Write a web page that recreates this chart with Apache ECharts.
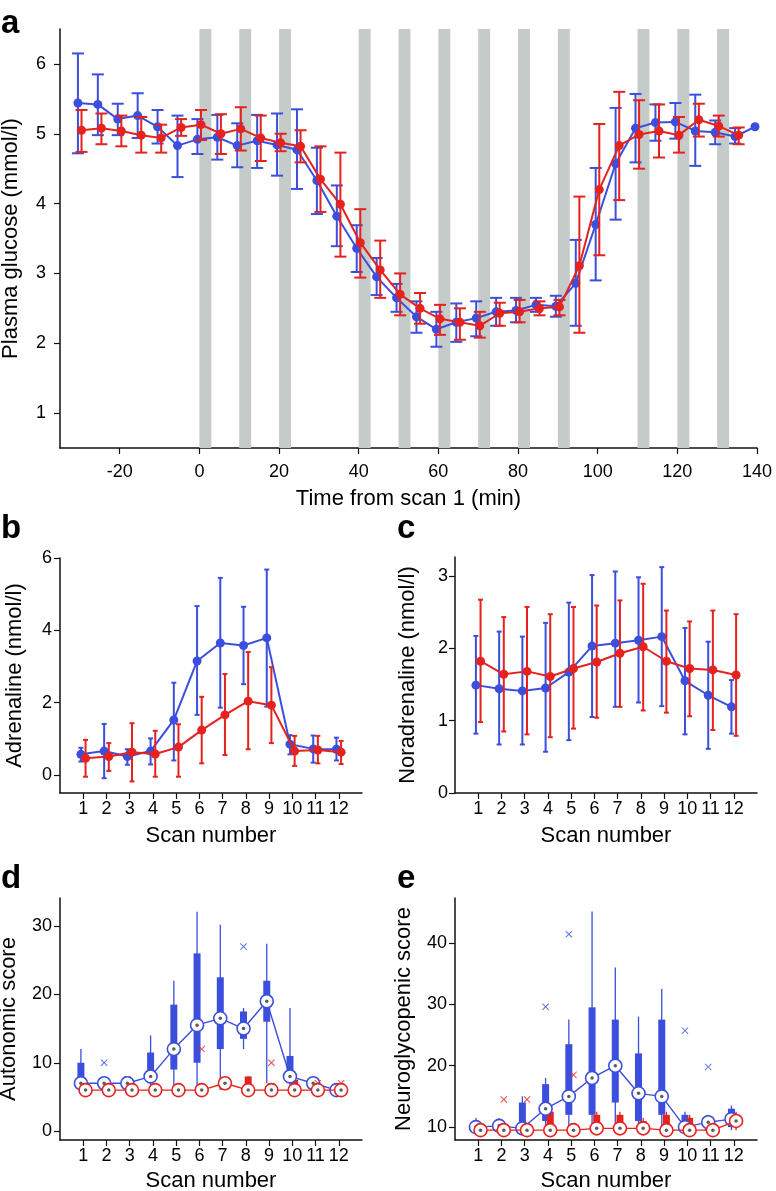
<!DOCTYPE html>
<html><head><meta charset="utf-8">
<script src="https://cdn.jsdelivr.net/npm/echarts@6/dist/echarts.min.js"></script>
<style>html,body{margin:0;padding:0;background:#fff}#c{width:776px;height:1191px}</style>
</head><body><div id="c"></div>
<script>
// ---------- Panel a: plasma glucose ----------
const aBlueTimes = [-30,-25,-20,-15,-10,-5,0,5,10,15,20,25,30,35,40,45,50,55,60,65,70,75,80,85,90,95,100,105,110,115,120,125,130,135,140];
const aBlue    = [5.44,5.42,5.21,5.26,5.10,4.83,4.92,4.95,4.83,4.90,4.84,4.77,4.33,3.82,3.36,2.95,2.65,2.38,2.20,2.30,2.36,2.45,2.47,2.55,2.53,2.86,3.70,4.57,5.08,5.16,5.17,5.04,5.02,4.96,5.10];
const aBlueLo  = [4.72,4.98,4.98,4.94,4.86,4.38,4.71,4.63,4.52,4.51,4.40,4.21,3.85,3.39,3.02,2.69,2.45,2.15,1.95,2.02,2.10,2.25,2.30,2.45,2.38,2.25,2.90,3.77,4.59,4.90,4.93,4.54,4.85,4.86,null];
const aBlueHi  = [6.15,5.85,5.43,5.58,5.34,5.26,5.21,5.27,5.15,5.27,5.29,5.35,4.80,4.26,3.69,3.22,2.85,2.60,2.45,2.57,2.60,2.65,2.65,2.65,2.68,3.48,4.51,5.37,5.57,5.42,5.44,5.56,5.19,5.08,null];
const aRedTimes = [-30,-25,-20,-15,-10,-5,0,5,10,15,20,25,30,35,40,45,50,55,60,65,70,75,80,85,90,95,100,105,110,115,120,125,130,135];
const aRed     = [5.05,5.08,5.04,4.98,4.94,5.09,5.13,5.00,5.07,4.94,4.87,4.82,4.35,3.99,3.44,3.05,2.70,2.50,2.35,2.30,2.25,2.43,2.45,2.50,2.52,3.11,4.20,4.83,4.99,5.04,4.98,5.20,5.11,4.98];
const aRedLo   = [4.74,4.85,4.82,4.73,4.73,4.97,4.91,4.71,4.76,4.61,4.75,4.59,3.88,3.24,2.94,2.65,2.40,2.28,2.12,2.05,2.08,2.25,2.30,2.40,2.40,2.15,3.26,4.05,4.50,4.66,4.73,4.96,4.96,4.85];
const aRedHi   = [5.34,5.29,5.26,5.24,5.13,5.21,5.34,5.28,5.38,5.26,5.00,5.05,4.82,4.73,3.92,3.47,3.00,2.72,2.55,2.50,2.45,2.58,2.62,2.60,2.62,4.10,5.14,5.60,5.48,5.42,5.24,5.43,5.26,5.09];
const scanStarts = [0,10,20,40,50,60,70,80,90,110,120,130];
const scanLength = 3;
const aXTicks = [-20,0,20,40,60,80,100,120,140];
const aYTicks = [1,2,3,4,5,6];

// ---------- Panels b-e: per scan ----------
const scans = [1,2,3,4,5,6,7,8,9,10,11,12];
const bBlue   = [0.57,0.66,0.51,0.66,1.52,3.15,3.65,3.58,3.79,0.85,0.72,0.71];
const bBlueLo = [0.37,-0.09,0.28,0.29,0.40,1.66,1.86,2.51,1.89,0.57,0.34,0.40];
const bBlueHi = [0.75,1.41,0.71,1.01,2.55,4.67,5.45,4.65,5.68,1.10,1.09,1.03];
const bRed    = [0.46,0.51,0.63,0.58,0.77,1.24,1.66,2.04,1.93,0.66,0.69,0.63];
const bRedLo  = [-0.05,0.11,-0.18,-0.05,-0.05,0.32,0.55,0.71,0.88,0.25,0.32,0.30];
const bRedHi  = [0.97,0.88,1.43,1.22,1.40,2.16,2.79,3.40,2.98,1.08,1.08,0.94];
const bYTicks = [0,2,4,6];

const cBlue   = [1.49,1.44,1.41,1.45,1.67,2.03,2.07,2.11,2.16,1.55,1.35,1.19];
const cBlueLo = [0.82,0.67,0.67,0.57,0.73,1.05,1.19,1.25,1.20,0.81,0.61,0.82];
const cBlueHi = [2.17,2.23,2.16,2.35,2.63,3.01,3.06,2.98,3.12,2.28,2.09,1.56];
const cRed    = [1.82,1.64,1.68,1.61,1.72,1.81,1.93,2.02,1.82,1.72,1.70,1.63];
const cRedLo  = [0.98,0.85,0.81,0.77,0.89,1.04,1.19,1.14,1.11,1.06,0.87,0.79];
const cRedHi  = [2.67,2.43,2.57,2.47,2.57,2.59,2.66,2.89,2.52,2.37,2.52,2.47];
const cYTicks = [0,1,2,3];

// box stats: [low whisker, q1, median, q3, high whisker]
const dBlueBox = [[6,6.5,7,10,12],[6,6.5,7,7.5,8],[6,6.5,7,8,8],[6,7,8,11.5,14],[6,9,12,18.5,22],[6,10,15.5,26,32.1],[6,12,16.5,22.5,30.2],[12,13.5,15,17.5,18],[7,16,19,22,27.4],[6,7,8,11,18],[6,6,7,7.5,8],[6,6,6,6.5,7]];
const dRedBox  = [[6,6,6,6,6],[6,6,6,6,6],[6,6,6,6,6],[6,6,6,6,6],[6,6,6,6,6],[6,6,6,6,6],[6,6,7,7.5,8],[6,6,6,8,8],[6,6,6,7,7],[6,6,6,7.5,8],[6,6,6,6,6],[6,6,6,6,6]];
const dBlueOut = [[2,10],[8,27]];
const dRedOut  = [[6,12],[9,10],[11,7],[12,7]];
const dYTicks = [0,10,20,30];

const eBlueBox = [[9.5,10,10,11,11.5],[9.5,10,10.2,11,11.5],[9.5,9.5,9.8,14,15],[9.5,11,13,17,18],[9.5,12,15,23.5,27.5],[9.5,12,18,29.5,45.1],[9.5,14,20,27.5,36],[9.5,11,15.5,22,28],[9.5,12,15,27.5,32.5],[9.5,9.5,10,12,12.5],[9.5,9.5,10.8,11,12],[9.5,10,11.3,13,13.5]];
const eRedBox  = [[9.5,9.5,9.5,10,10.5],[9.5,9.5,9.5,10,10.5],[9.5,9.5,9.5,10,10.5],[9.5,9.5,9.5,12.5,13],[9.5,9.5,9.5,10,10.5],[9.5,9.5,9.8,12,12.5],[9.5,9.5,9.8,12,12.5],[9.5,9.5,9.8,11,11.5],[9.5,9.5,9.5,12,12.5],[9.5,9.5,9.5,11.5,12],[9.5,9.5,9.5,10,10.5],[9.5,10,11,12,12.5]];
const eBlueOut = [[4,29.6],[5,41.4],[10,25.7],[11,19.8]];
const eRedOut  = [[2,14.5],[3,14.5],[5,18.5]];
const eYTicks = [10,20,30,40];

// ---------- styling ----------
const BLUE = '#3b4fdc', RED = '#e5221e', GREY = '#c5cbc8';
const FONT = "'Liberation Sans', Arial, Helvetica, sans-serif";
const TICK_FS = 18, NAME_FS = 22;

function xAxis(gi, min, max, ticks, name, gap, margin) {
  return {type:'value', gridIndex:gi, min, max, name, nameLocation:'middle', nameGap:gap,
    nameTextStyle:{fontSize:NAME_FS, color:'#000', fontFamily:FONT},
    axisLine:{show:true, onZero:false, lineStyle:{color:'#111', width:1.5}},
    axisTick:{show:true, inside:false, length:6, customValues:ticks, lineStyle:{color:'#111', width:1.2}},
    axisLabel:{customValues:ticks, fontSize:TICK_FS, color:'#000', fontFamily:FONT, margin},
    splitLine:{show:false}};
}
function yAxis(gi, min, max, ticks, name, gap, margin) {
  return {type:'value', gridIndex:gi, min, max, name, nameLocation:'middle', nameGap:gap, nameRotate:90,
    nameTextStyle:{fontSize:NAME_FS, color:'#000', fontFamily:FONT},
    axisLine:{show:true, onZero:false, lineStyle:{color:'#111', width:1.5}},
    axisTick:{show:true, inside:false, length:6, customValues:ticks, lineStyle:{color:'#111', width:1.2}},
    axisLabel:{customValues:ticks, fontSize:TICK_FS, color:'#000', fontFamily:FONT, margin},
    splitLine:{show:false}};
}
function errBars(gi, xs, lo, hi, color, cap, lw, z) {
  const data = [];
  xs.forEach((x,i)=>{ if (lo[i]!=null && hi[i]!=null) data.push([x, lo[i], hi[i]]); });
  return {type:'custom', xAxisIndex:gi, yAxisIndex:gi, z, silent:true, data,
    renderItem(params, api){
      const x = api.value(0);
      const p1 = api.coord([x, api.value(1)]), p2 = api.coord([x, api.value(2)]);
      const st = {stroke:color, lineWidth:lw};
      return {type:'group', children:[
        {type:'line', shape:{x1:p1[0], y1:p1[1], x2:p2[0], y2:p2[1]}, style:st},
        {type:'line', shape:{x1:p1[0]-cap/2, y1:p1[1], x2:p1[0]+cap/2, y2:p1[1]}, style:st},
        {type:'line', shape:{x1:p2[0]-cap/2, y1:p2[1], x2:p2[0]+cap/2, y2:p2[1]}, style:st}
      ]};
    }};
}
function lineSeries(gi, xs, ys, color, size, lw, z) {
  return {type:'line', xAxisIndex:gi, yAxisIndex:gi, z, silent:true, animation:false,
    data: xs.map((x,i)=>[x, ys[i]]), symbol:'circle', symbolSize:size, showSymbol:true,
    itemStyle:{color}, lineStyle:{color, width:lw}};
}
function boxSeries(gi, boxes, offset, color, z) {
  return {type:'custom', xAxisIndex:gi, yAxisIndex:gi, z, silent:true,
    data: boxes.map((b,i)=>[scans[i]+offset, b[0], b[1], b[3], b[4]]),
    renderItem(params, api){
      const x = api.value(0);
      const lo = api.coord([x, api.value(1)]), q1 = api.coord([x, api.value(2)]);
      const q3 = api.coord([x, api.value(3)]), hi = api.coord([x, api.value(4)]);
      const w = 7;
      return {type:'group', children:[
        {type:'line', shape:{x1:lo[0], y1:lo[1], x2:hi[0], y2:hi[1]}, style:{stroke:color, lineWidth:1.3}},
        {type:'rect', shape:{x:q1[0]-w/2, y:q3[1], width:w, height:Math.max(q1[1]-q3[1],0)}, style:{fill:color}}
      ]};
    }};
}
function medianSeries(gi, boxes, offset, color, z) {
  const data = boxes.map((b,i)=>[scans[i]+offset, b[2]]);
  return [
    {type:'line', xAxisIndex:gi, yAxisIndex:gi, z, silent:true, data, symbol:'circle', symbolSize:13,
     itemStyle:{color:'#fff', borderColor:color, borderWidth:1.6}, lineStyle:{color, width:1.4}},
    {type:'scatter', xAxisIndex:gi, yAxisIndex:gi, z:z+1, silent:true, data, symbol:'circle', symbolSize:3.5,
     itemStyle:{color:'#333'}}
  ];
}
const XPATH = 'path://M0,1L1,0L5,4L9,0L10,1L6,5L10,9L9,10L5,6L1,10L0,9L4,5Z';
function outSeries(gi, pts, offset, color) {
  return {type:'scatter', xAxisIndex:gi, yAxisIndex:gi, z:6, silent:true,
    data: pts.map(p=>[p[0]+offset, p[1]]), symbol:XPATH, symbolSize:7, itemStyle:{color}};
}
const off = 0.1;
const aOffB = -0.5, aOffR = 0.4;

const series = [
  {type:'line', xAxisIndex:0, yAxisIndex:0, data:[], z:0, silent:true,
   markArea:{silent:true, itemStyle:{color:GREY}, data: scanStarts.map(s=>[{xAxis:s},{xAxis:s+scanLength}])}},
  errBars(0, aBlueTimes.map(t=>t+aOffB), aBlueLo, aBlueHi, BLUE, 12, 2, 2),
  lineSeries(0, aBlueTimes.map(t=>t+aOffB), aBlue, BLUE, 9, 2, 3),
  errBars(0, aRedTimes.map(t=>t+aOffR), aRedLo, aRedHi, RED, 12, 2, 4),
  lineSeries(0, aRedTimes.map(t=>t+aOffR), aRed, RED, 9, 2, 5),
  errBars(1, scans.map(s=>s-off), bBlueLo, bBlueHi, BLUE, 5, 2, 2),
  lineSeries(1, scans.map(s=>s-off), bBlue, BLUE, 9, 2, 3),
  errBars(1, scans.map(s=>s+off), bRedLo, bRedHi, RED, 5, 2, 4),
  lineSeries(1, scans.map(s=>s+off), bRed, RED, 9, 2, 5),
  errBars(2, scans.map(s=>s-off), cBlueLo, cBlueHi, BLUE, 5, 2, 2),
  lineSeries(2, scans.map(s=>s-off), cBlue, BLUE, 9, 2, 3),
  errBars(2, scans.map(s=>s+off), cRedLo, cRedHi, RED, 5, 2, 4),
  lineSeries(2, scans.map(s=>s+off), cRed, RED, 9, 2, 5),
  boxSeries(3, dBlueBox, -off, BLUE, 2),
  boxSeries(3, dRedBox, off, RED, 2),
  outSeries(3, dBlueOut, -off, BLUE),
  outSeries(3, dRedOut, off, RED),
  ...medianSeries(3, dBlueBox, -off, BLUE, 4),
  ...medianSeries(3, dRedBox, off, RED, 6),
  boxSeries(4, eBlueBox, -off, BLUE, 2),
  boxSeries(4, eRedBox, off, RED, 2),
  outSeries(4, eBlueOut, -off, BLUE),
  outSeries(4, eRedOut, off, RED),
  ...medianSeries(4, eBlueBox, -off, BLUE, 4),
  ...medianSeries(4, eRedBox, off, RED, 6)
];

const panelLabel = (t, x, y) => ({type:'text', left:x, top:y,
  style:{text:t, font:"bold 33px " + FONT, fill:'#000'}});
const g = (left, top, width, height) => ({left, top, width, height, containLabel:false, outerBoundsMode:'none'});

const option = {
  animation:false,
  backgroundColor:'#fff',
  grid:[
    g(60, 29, 697, 419),
    g(60, 558, 302, 235),
    g(455, 557, 302, 236),
    g(60, 898, 302, 242),
    g(455, 898, 302, 242)
  ],
  xAxis:[
    xAxis(0, -35, 140, aXTicks, 'Time from scan 1 (min)', 40, 15),
    xAxis(1, 0, 13, scans, 'Scan number', 32, 7),
    xAxis(2, 0, 13, scans, 'Scan number', 32, 7),
    xAxis(3, 0, 13, scans, 'Scan number', 30, 7),
    xAxis(4, 0, 13, scans, 'Scan number', 30, 7)
  ],
  yAxis:[
    yAxis(0, 0.5, 6.5, aYTicks, 'Plasma glucose (mmol/l)', 38, 14),
    yAxis(1, -0.5, 6, bYTicks, 'Adrenaline (nmol/l)', 34, 8),
    yAxis(2, 0, 3.26, cYTicks, 'Noradrenaline (nmol/l)', 36, 7),
    yAxis(3, -1.3, 34.1, dYTicks, 'Autonomic score', 40, 8),
    yAxis(4, 7.9, 47.3, eYTicks, 'Neuroglycopenic score', 40, 8)
  ],
  graphic:[
    panelLabel('a', 1, 7),
    panelLabel('b', 1, 512),
    panelLabel('c', 397, 512),
    panelLabel('d', 1, 862),
    panelLabel('e', 397, 862)
  ],
  series
};
const chart = echarts.init(document.getElementById('c'), null, {renderer:'canvas'});
chart.setOption(option);
</script></body></html>
